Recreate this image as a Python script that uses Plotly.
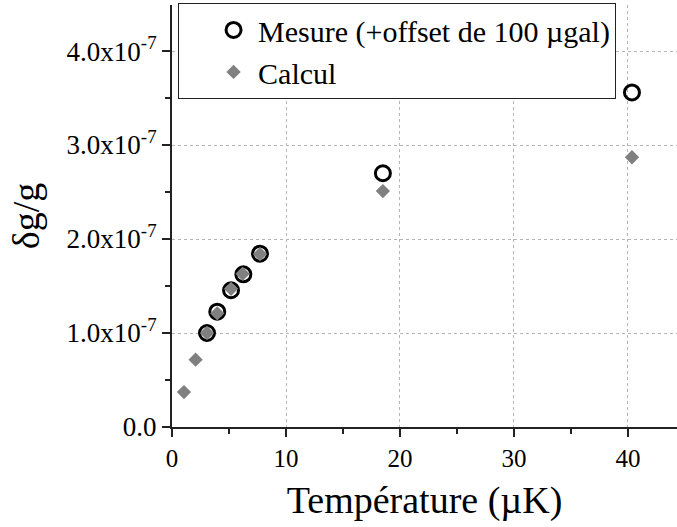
import plotly.graph_objects as go

# Mesure (+offset de 100 µgal)
mesure_T = [3.07, 3.97, 5.18, 6.26, 7.72, 18.5, 40.35]
mesure_dg = [1.00e-7, 1.227e-7, 1.455e-7, 1.624e-7, 1.844e-7, 2.70e-7, 3.56e-7]

# Calcul
calcul_T = [1.05, 2.07, 3.07, 3.97, 5.18, 6.2, 7.72, 18.5, 40.35]
calcul_dg = [0.372e-7, 0.716e-7, 1.0e-7, 1.21e-7, 1.47e-7, 1.63e-7, 1.84e-7, 2.51e-7, 2.87e-7]

y_tickvals = [0, 1e-7, 2e-7, 3e-7, 4e-7]
y_ticktext = ["0.0", "1.0x10<sup>-7</sup>", "2.0x10<sup>-7</sup>",
              "3.0x10<sup>-7</sup>", "4.0x10<sup>-7</sup>"]
x_tickvals = [0, 10, 20, 30, 40]

font = "Liberation Serif"

fig = go.Figure()
fig.add_trace(go.Scatter(
    x=mesure_T, y=mesure_dg, mode="markers",
    name="Mesure (+offset de 100 \u00b5gal)",
    marker=dict(symbol="circle-open", size=15, color="black", line=dict(width=3, color="black")),
))
fig.add_trace(go.Scatter(
    x=calcul_T, y=calcul_dg, mode="markers",
    name="Calcul",
    marker=dict(symbol="diamond", size=11, color="#808080"),
))

axis_common = dict(
    showline=True, linecolor="#222", linewidth=2,
    ticks="outside", ticklen=8, tickwidth=2, tickcolor="#222",
    showgrid=True, gridcolor="#b5b5b5", griddash="dot", gridwidth=1,
    zeroline=False,
)
minor_common = dict(ticks="outside", ticklen=5, tickwidth=2, tickcolor="#222", showgrid=False)

fig.update_layout(
    width=677, height=527,
    margin=dict(l=172, r=0, t=5, b=100),
    plot_bgcolor="white", paper_bgcolor="white",
    font=dict(family=font, color="black"),
    xaxis=dict(
        range=[0, 44.3], tickvals=x_tickvals,
        minor=dict(dtick=5, **minor_common),
        tickfont=dict(family=font, size=25, color="black"),
        title=dict(text="Temp\u00e9rature (\u00b5K)", font=dict(family=font, size=38), standoff=15),
        **axis_common,
    ),
    yaxis=dict(
        range=[0, 4.49e-7], tickvals=y_tickvals, ticktext=y_ticktext,
        minor=dict(dtick=0.5e-7, **minor_common),
        tickfont=dict(family=font, size=27, color="black"),
        title=dict(text="\u03b4g/g", font=dict(family=font, size=38), standoff=15),
        **axis_common,
    ),
    legend=dict(
        x=0.012, y=1.005, xanchor="left", yanchor="top",
        bgcolor="white", bordercolor="#222", borderwidth=1,
        font=dict(family=font, size=30, color="black"),
        tracegroupgap=0, itemwidth=39, indentation=30,
    ),
    showlegend=True,
)

fig.write_html("out.html", config={"displayModeBar": False},
               post_script="document.body.style.margin='0';")
